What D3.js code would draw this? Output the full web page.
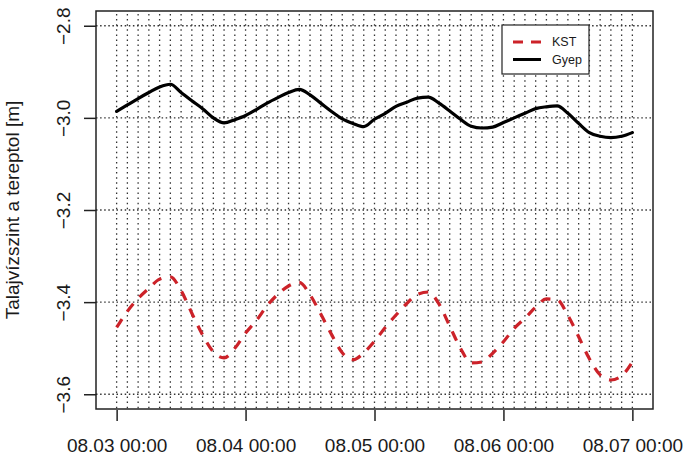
<!DOCTYPE html>
<html>
<head>
<meta charset="utf-8">
<script src="https://cdn.jsdelivr.net/npm/d3@7"></script>
<style>
  html, body { margin: 0; padding: 0; background: #fff; }
  svg { display: block; font-family: "Liberation Sans", Arial, Helvetica, sans-serif; }
</style>
</head>
<body>
<svg id="chart" width="687" height="459"></svg>
<script>
// ---- data ----
const startTime = "2015-08-03T00:00:00";
const stepHours = 2;
const seriesNames = ["KST", "Gyep"];
const kstValues = [-3.455,-3.420,-3.392,-3.370,-3.350,-3.345,-3.375,-3.424,-3.471,-3.508,-3.521,-3.500,-3.467,
  -3.440,-3.408,-3.383,-3.365,-3.357,-3.384,-3.426,-3.470,-3.510,-3.525,-3.510,-3.485,
  -3.455,-3.428,-3.403,-3.383,-3.378,-3.404,-3.452,-3.500,-3.532,-3.530,-3.511,-3.486,
  -3.457,-3.435,-3.411,-3.393,-3.395,-3.429,-3.475,-3.523,-3.558,-3.569,-3.560,-3.530];
const gyepValues = [-2.986,-2.972,-2.958,-2.945,-2.933,-2.927,-2.945,-2.963,-2.980,-3.000,-3.011,-3.004,-2.995,
  -2.982,-2.968,-2.956,-2.945,-2.938,-2.950,-2.968,-2.986,-3.002,-3.012,-3.019,-3.003,
  -2.990,-2.975,-2.966,-2.957,-2.955,-2.968,-2.985,-3.003,-3.018,-3.022,-3.020,-3.010,
  -3.000,-2.990,-2.980,-2.976,-2.974,-2.990,-3.012,-3.032,-3.040,-3.043,-3.040,-3.032];
const xTickLabels = ["08.03 00:00","08.04 00:00","08.05 00:00","08.06 00:00","08.07 00:00"];
const yTicks = [-3.6, -3.4, -3.2, -3.0, -2.8];
const yLabel = "Talajvízszint a tereptol [m]";

// ---- layout ----
const L = 96, R = 653, T = 11, B = 409;
const fontSize = 19;
const svg = d3.select("#chart");

const t0 = new Date(startTime);
const times = kstValues.map((_, i) => new Date(t0.getTime() + i * stepHours * 3600e3));
const tEnd = times[times.length - 1];
const span = tEnd - t0;
const x = d3.scaleTime()
  .domain([new Date(t0.getTime() - 0.04 * span), new Date(tEnd.getTime() + 0.04 * span)])
  .range([L, R]);
const yExt = [d3.min(yTicks), d3.max(yTicks)];
const yPad = 0.04 * (yExt[1] - yExt[0]);
const y = d3.scaleLinear().domain([yExt[0] - yPad, yExt[1] + yPad]).range([B, T]);

const xTickDates = xTickLabels.map((_, i) => new Date(t0.getTime() + i * 24 * 3600e3));

// ---- grid ----
const grid = svg.append("g");
grid.selectAll("line.v").data(times).join("line")
  .attr("x1", d => x(d)).attr("x2", d => x(d))
  .attr("y1", T + 3).attr("y2", B)
  .attr("stroke", "#333").attr("stroke-width", 1.3).attr("stroke-dasharray", "1.5,3.6");
grid.selectAll("line.h").data(yTicks).join("line")
  .attr("x1", L).attr("x2", R)
  .attr("y1", d => y(d)).attr("y2", d => y(d))
  .attr("stroke", "#333").attr("stroke-width", 1.3).attr("stroke-dasharray", "1.5,2.6");

// ---- series ----
const line = d3.line().x((d, i) => x(times[i])).y(d => y(d)).curve(d3.curveMonotoneX);
svg.append("path").datum(kstValues).attr("d", line)
  .attr("fill", "none").attr("stroke", "#cc2229").attr("stroke-width", 3.2)
  .attr("stroke-dasharray", "10,9").attr("stroke-linejoin", "round");
svg.append("path").datum(gyepValues).attr("d", line)
  .attr("fill", "none").attr("stroke", "#000").attr("stroke-width", 3.2)
  .attr("stroke-linejoin", "round").attr("stroke-linecap", "round");

// ---- box ----
svg.append("rect").attr("x", L).attr("y", T).attr("width", R - L).attr("height", B - T)
  .attr("fill", "none").attr("stroke", "#222").attr("stroke-width", 1.5);

// ---- axes ----
const xAxis = d3.axisBottom(x).tickValues(xTickDates).tickSize(11).tickSizeOuter(0)
  .tickFormat((d, i) => xTickLabels[i]);
const gx = svg.append("g").attr("transform", `translate(0,${B + 1})`).call(xAxis);
gx.select(".domain").remove();
gx.selectAll("line").attr("stroke", "#222").attr("stroke-width", 1.5);
gx.selectAll("text").attr("y", 42).attr("dy", null)
  .attr("font-size", fontSize).attr("fill", "#1a1a1a").attr("font-family", null);

const yAxis = d3.axisLeft(y).tickValues(yTicks).tickSize(12).tickSizeOuter(0).tickFormat(d3.format(".1f"));
const gy = svg.append("g").attr("transform", `translate(${L},0)`).call(yAxis);
gy.select(".domain").remove();
gy.selectAll("line").attr("stroke", "#222").attr("stroke-width", 1.5);
gy.selectAll("text").attr("transform", "rotate(-90)").attr("x", 0).attr("y", -26).attr("dy", null)
  .attr("text-anchor", "middle").attr("font-size", fontSize).attr("fill", "#1a1a1a").attr("font-family", null);

svg.append("text")
  .attr("transform", `translate(19,${(T + B) / 2}) rotate(-90)`)
  .attr("text-anchor", "middle").attr("font-size", fontSize).attr("fill", "#1a1a1a")
  .text(yLabel);

// ---- legend ----
const lg = svg.append("g");
lg.append("rect").attr("x", 502).attr("y", 25).attr("width", 87).attr("height", 49)
  .attr("fill", "#fff").attr("stroke", "#222").attr("stroke-width", 1.2);
const legItems = [
  { name: seriesNames[0], color: "#cc2229", dash: "10,8" },
  { name: seriesNames[1], color: "#000", dash: null }
];
legItems.forEach((it, i) => {
  const ly = 42 + i * 17.5;
  lg.append("line").attr("x1", 513).attr("x2", 541).attr("y1", ly).attr("y2", ly)
    .attr("stroke", it.color).attr("stroke-width", 3).attr("stroke-dasharray", it.dash);
  lg.append("text").attr("x", 552).attr("y", ly).attr("dy", "0.35em")
    .attr("font-size", 12.5).attr("fill", "#1a1a1a").text(it.name);
});
</script>
</body>
</html>
